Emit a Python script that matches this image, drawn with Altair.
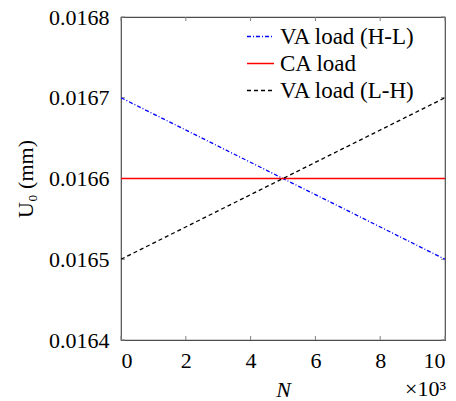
import altair as alt
import pandas as pd

# data
N_vals = [0, 10]
series_names = ["VA load (H-L)", "CA load", "VA load (L-H)"]
va_hl = [0.0167, 0.0165]
ca = [0.0166, 0.0166]
va_lh = [0.0165, 0.0167]
x_ticks = [0, 2, 4, 6, 8, 10]
y_ticks = [0.0164, 0.0165, 0.0166, 0.0167, 0.0168]
colors = ["#0000ff", "#ff0000", "#000000"]
dashes = [[4, 2, 1, 2], [1, 0], [4, 3]]

rows = []
for name, vals in zip(series_names, [va_hl, ca, va_lh]):
    for n, v in zip(N_vals, vals):
        rows.append({"N": n, "U": v, "series": name})
df = pd.DataFrame(rows)

W, H = 324, 323
FONT = "Liberation Serif"

xs = alt.Scale(domain=[0, 10], nice=False, zero=False)
ys = alt.Scale(domain=[0.0164, 0.0168], nice=False, zero=False)

leg = dict(title=None, orient="none", legendX=125, legendY=5,
           symbolType="stroke", symbolSize=729,
           symbolStrokeWidth=1.3, labelFontSize=23,
           labelFont=FONT, rowPadding=-2, labelOffset=5,
           labelColor="#000000")

lines = alt.Chart(df).mark_line(strokeWidth=1.3, clip=True).encode(
    x=alt.X("N:Q", scale=xs,
            axis=alt.Axis(title="N", values=x_ticks, format="d", ticks=False, domain=False,
                          grid=False, labelPadding=10, titlePadding=8,
                          labelFont=FONT, titleFont=FONT,
                          titleFontStyle="italic", titleFontWeight="normal")),
    y=alt.Y("U:Q", scale=ys,
            axis=alt.Axis(title="U₀ (mm)", values=y_ticks, format=".4f", ticks=False,
                          domain=False, grid=False, labelPadding=12, titlePadding=11,
                          labelFont=FONT, titleFont=FONT,
                          titleFontWeight="normal")),
    color=alt.Color("series:N", scale=alt.Scale(domain=series_names, range=colors),
                    legend=alt.Legend(**leg)),
    strokeDash=alt.StrokeDash("series:N", scale=alt.Scale(domain=series_names, range=dashes),
                              legend=alt.Legend(**leg)),
    order=alt.Order("series:N"),
)

xt = pd.DataFrame({"N": x_ticks})
yt = pd.DataFrame({"U": y_ticks})
tick_color = "#808080"
bottom_ticks = alt.Chart(xt).mark_rule(color=tick_color, strokeWidth=1).encode(
    x=alt.X("N:Q", scale=xs), y=alt.value(H), y2=alt.value(H - 4))
top_ticks = alt.Chart(xt).mark_rule(color=tick_color, strokeWidth=1).encode(
    x=alt.X("N:Q", scale=xs), y=alt.value(0), y2=alt.value(4))
left_ticks = alt.Chart(yt).mark_rule(color=tick_color, strokeWidth=1).encode(
    y=alt.Y("U:Q", scale=ys), x=alt.value(0), x2=alt.value(4))
right_ticks = alt.Chart(yt).mark_rule(color=tick_color, strokeWidth=1).encode(
    y=alt.Y("U:Q", scale=ys), x=alt.value(W), x2=alt.value(W - 4))

mult = alt.Chart(pd.DataFrame({"t": ["×10³"]})).mark_text(
    font=FONT, fontSize=22, align="right", baseline="alphabetic", color="#000000"
).encode(text="t:N", x=alt.value(W + 1), y=alt.value(H + 56))

chart = alt.layer(bottom_ticks, top_ticks, left_ticks, right_ticks, lines, mult).properties(
    width=W, height=H,
    padding={"left": 113, "top": 9, "right": 3, "bottom": 61},
    autosize=alt.AutoSizeParams(type="none"),
).configure_view(
    stroke="#4d4d4d", strokeWidth=1.2
).configure_axis(
    labelFont=FONT, titleFont=FONT, labelFontSize=22, titleFontSize=22,
    labelColor="#000000", titleColor="#000000"
).configure_legend(
    labelFont=FONT
)

chart.save("out.html", embed_options={"renderer": "svg", "actions": False})
